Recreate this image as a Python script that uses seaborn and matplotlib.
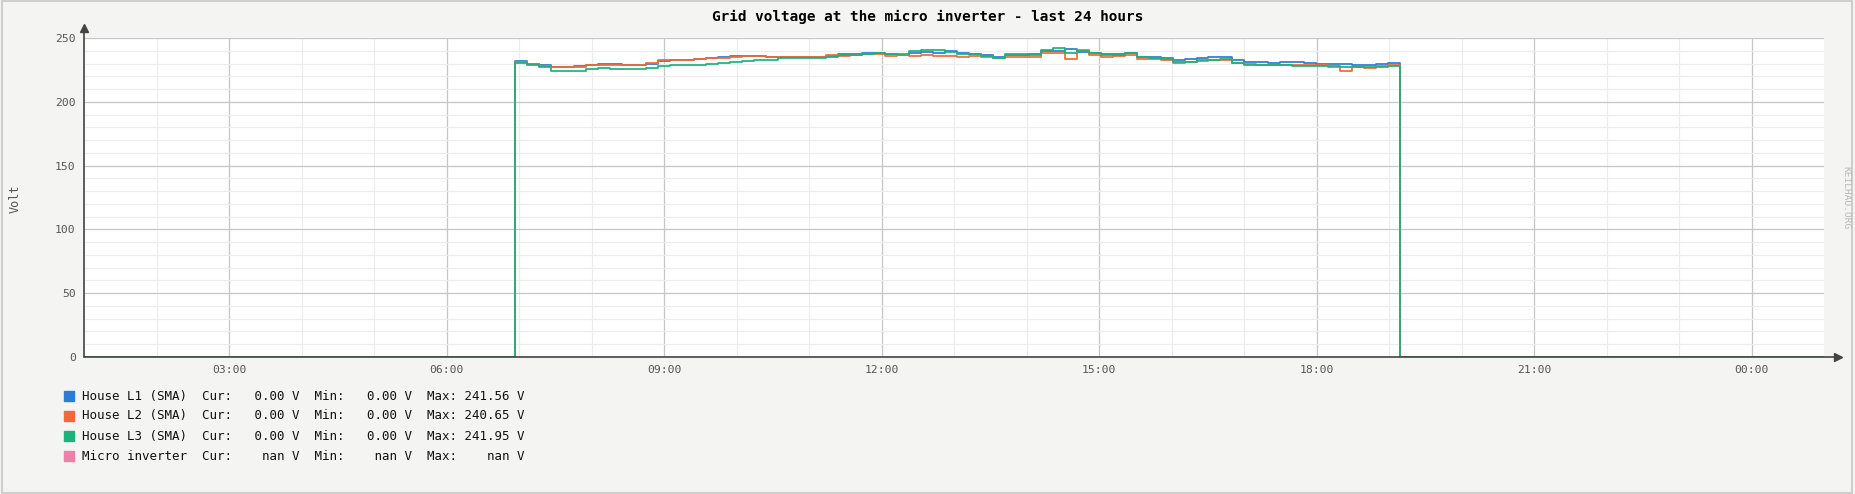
import numpy as np
import pandas as pd
import matplotlib
matplotlib.use("Agg")
import matplotlib.pyplot as plt
import matplotlib.patches as mpatches
import seaborn as sns

# voltage samples (V), every ~10 min while the inverter is online
house_l1 = [232, 230, 228.5, 227, 227.5, 228, 229, 230, 229.5, 229,
            229, 229.5, 232, 232.5, 233, 233.5, 234.5, 235.5, 236, 236,
            236, 235, 235.5, 235, 235, 235.5, 236, 237.5, 237.5, 238,
            238.5, 237.5, 237, 238.5, 239, 238.5, 240, 238, 237.5, 236.5,
            235, 236.5, 236.5, 237.5, 240, 239.5, 241.56, 239, 238.5, 237.5,
            237.5, 238, 235.5, 235, 234, 232.5, 233.5, 234, 235, 235.5,
            232.5, 231, 231, 230.5, 231.5, 231, 230.5, 230, 230, 229.5,
            229, 228.5, 229.5, 230.5]
house_l2 = [231, 229.5, 228, 227, 227, 227.5, 228.5, 228.5, 228.5, 229,
            228.5, 230.5, 232.5, 232.5, 233, 233.5, 234.5, 234.5, 235, 236,
            236, 235.5, 235.5, 235, 235, 235.5, 236.5, 236, 237, 237.5,
            237.5, 236, 236.5, 236, 236.5, 236, 236, 235.5, 236, 235,
            234, 235.5, 235, 235, 238.5, 238, 233.5, 240.65, 237, 235,
            236, 236.5, 233.5, 233.5, 233, 230.5, 231.5, 232, 233, 233,
            230.5, 229.5, 229, 228.5, 229, 228.5, 229, 229, 227.5, 224,
            227.5, 226.5, 228, 229]
house_l3 = [230.5, 229, 227, 224.5, 224, 224.5, 225.5, 226.5, 226, 225.5,
            226, 226.5, 228, 229, 228.5, 229, 230, 230.5, 231, 232,
            233, 233, 234, 234, 234.5, 234.5, 235.5, 236.5, 237, 237.5,
            238, 237.5, 237.5, 240, 240.5, 240.5, 239, 237.5, 237.5, 236,
            234.5, 237.5, 237.5, 237, 241, 241.95, 238.5, 240, 238.5, 236.5,
            237, 238.5, 235, 234.5, 233.5, 231.5, 231.5, 232.5, 233, 233.5,
            230.5, 229, 229, 229, 228.5, 228, 228, 228, 228, 227.5,
            227.5, 227, 227.5, 228]
online_from, online_to = 6.94, 19.15   # hours
window = (1.0, 25.0)

series_names = ["House L1 (SMA)", "House L2 (SMA)", "House L3 (SMA)", "Micro inverter"]
colors = ["#2c7bd6", "#f06a38", "#1db27a", "#ee7fa8"]
legend_cur = ["  0.00", "  0.00", "  0.00", "   nan"]
legend_min = ["  0.00", "  0.00", "  0.00", "   nan"]
legend_max = ["241.56", "240.65", "241.95", "   nan"]

t_on = np.linspace(online_from, online_to, len(house_l1) + 1)
rows = []
for name, vals in zip(series_names[:3], [house_l1, house_l2, house_l3]):
    xs = [window[0]] + list(t_on) + [window[1]]
    ys = [0] + list(vals) + [0, 0]
    for x, y in zip(xs, ys):
        rows.append({"hour": x, "volt": y, "series": name})
df = pd.DataFrame(rows)

sns.set_style("white")
plt.rcParams["font.family"] = ["DejaVu Sans Mono"]

fig = plt.figure(figsize=(18.56, 4.94), dpi=100, facecolor="#f4f4f2")
fig.patches.append(mpatches.Rectangle((0.001, 0.002), 0.997, 0.996, transform=fig.transFigure,
                                      fill=False, edgecolor="#cfcfcb", linewidth=1.5))
ax = fig.add_axes([0.04526, 0.2773, 0.9375, 0.6457])
ax.set_facecolor("white")

sns.lineplot(data=df, x="hour", y="volt", hue="series", palette=colors[:3],
             estimator=None, drawstyle="steps-post", linewidth=1.25, legend=False, ax=ax)

ax.set_xlim(*window)
ax.set_ylim(0, 250)
ax.set_xticks(np.arange(3, 25, 3))
ax.set_xticklabels([f"{int(h) % 24:02d}:00" for h in np.arange(3, 25, 3)])
ax.set_xticks(np.arange(1, 25, 1), minor=True)
ax.set_yticks(np.arange(0, 251, 50))
ax.set_yticks(np.arange(0, 251, 10), minor=True)
ax.grid(which="major", color="#c6c6c6", linewidth=0.9)
ax.grid(which="minor", color="#ececec", linewidth=0.8)
ax.set_axisbelow(True)
ax.tick_params(axis="both", which="major", labelsize=8.2, labelcolor="#555555",
               color="#555555", length=3, width=0.8)
ax.tick_params(axis="y", pad=3)
ax.tick_params(axis="x", pad=3)
ax.tick_params(which="minor", length=0)
ax.set_xlabel("")
ax.set_ylabel("")
for s in ax.spines.values():
    s.set_visible(False)

# axis lines with arrow heads
ax.plot([0, 0], [0, 1.025], color="#444444", lw=1.2, transform=ax.transAxes, clip_on=False)
ax.plot([0, 1.007], [0, 0], color="#444444", lw=1.2, transform=ax.transAxes, clip_on=False)
ax.plot([0], [1.03], marker="^", ms=6, color="#444444", transform=ax.transAxes, clip_on=False)
ax.plot([1.008], [0], marker=">", ms=6, color="#444444", transform=ax.transAxes, clip_on=False)

fig.text(0.5, 0.965, "Grid voltage at the micro inverter - last 24 hours", ha="center", va="center",
         fontsize=10.4, fontweight="bold", color="black")
fig.text(15 / 1856, 0.597, "Volt", rotation=90, ha="center", va="center",
         fontsize=8.5, color="#555555")
fig.text(0.9945, 0.6, "KEILHAU.ORG", rotation=-90, ha="center", va="center",
         fontsize=6.8, color="#b8b8b8")

# legend rows
for i, name in enumerate(series_names):
    y = 1 - (396 + 20 * i) / 494
    fig.patches.append(mpatches.Rectangle((64 / 1856, y - 5 / 494), 10 / 1856, 10 / 494,
                                          transform=fig.transFigure, color=colors[i]))
    line = f"{name:<14}  Cur: {legend_cur[i]} V  Min: {legend_min[i]} V  Max: {legend_max[i]} V"
    fig.text(82 / 1856, y, line, ha="left", va="center", fontsize=9.0, color="#111111")

fig.savefig("out.png", dpi=100, facecolor=fig.get_facecolor())
